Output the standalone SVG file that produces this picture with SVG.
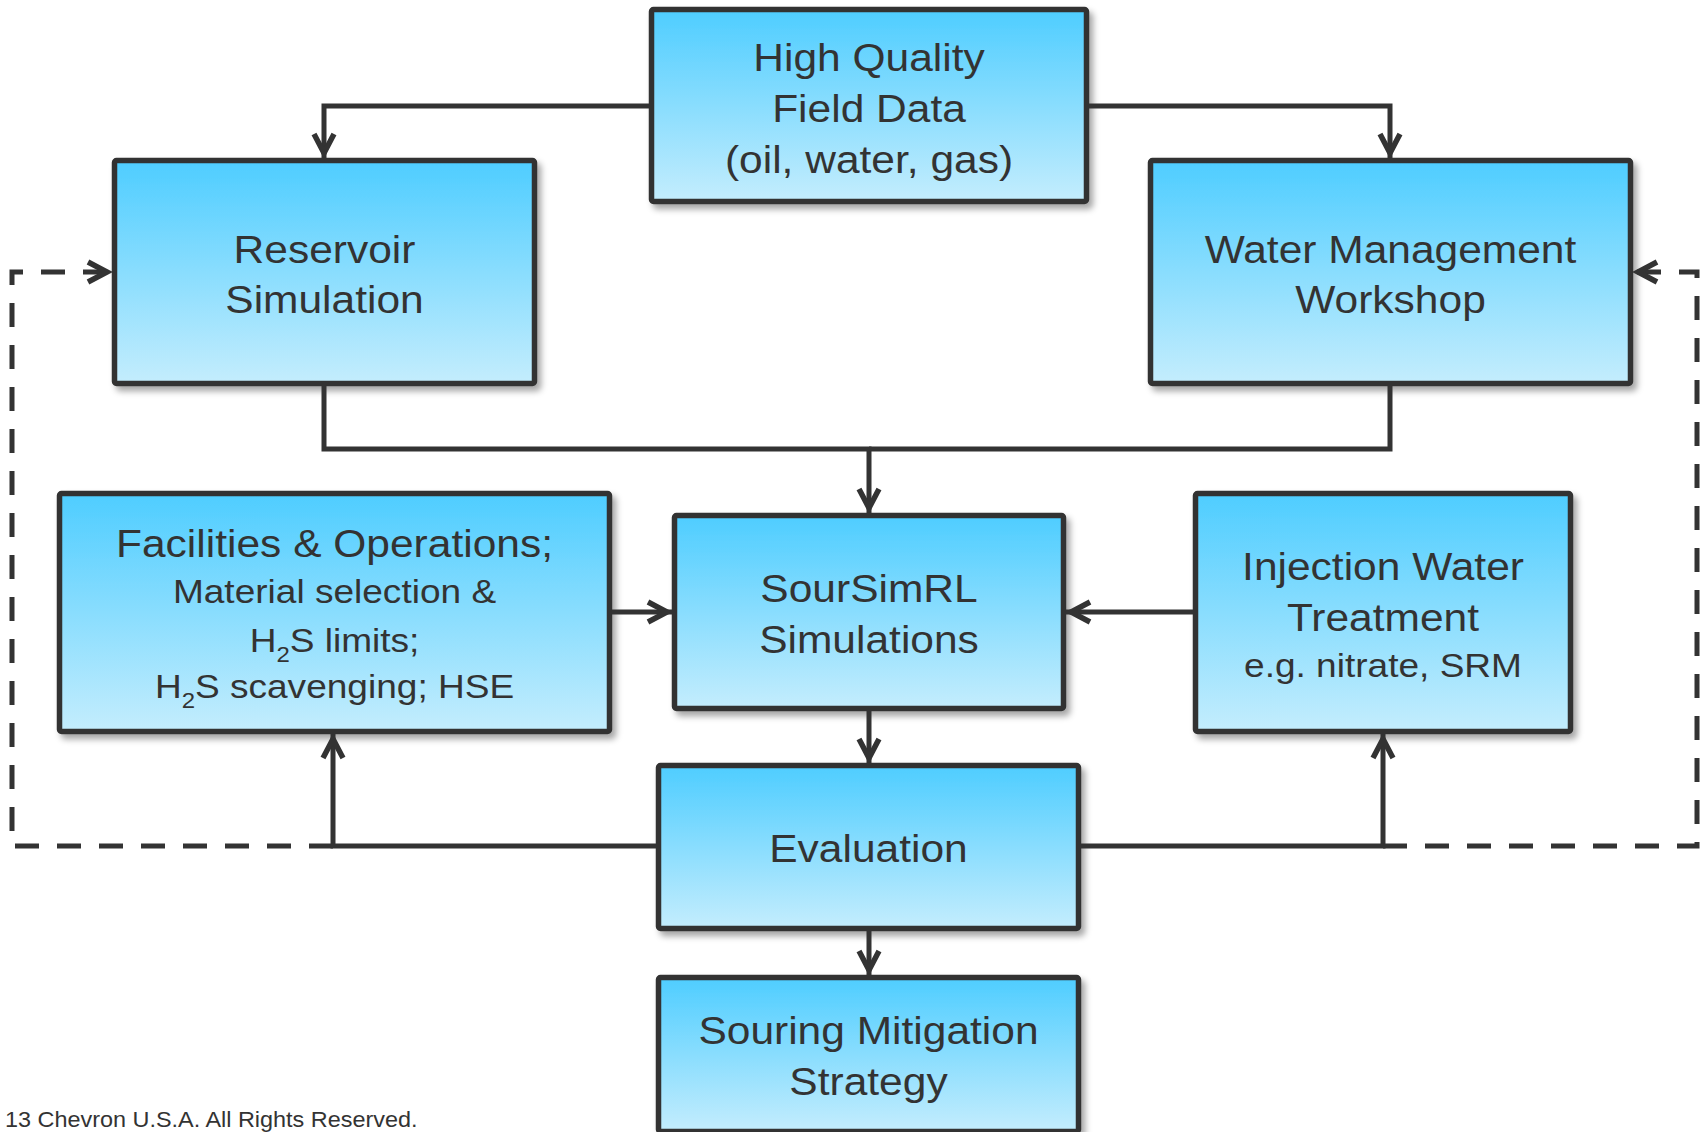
<svg xmlns="http://www.w3.org/2000/svg" width="1704" height="1132" viewBox="0 0 1704 1132">
<style>
.box{fill:url(#g);stroke:#333;stroke-width:5.5;stroke-linejoin:round;filter:url(#sh)}
.t{font-family:"Liberation Sans",Arial,sans-serif;fill:#333;text-anchor:middle}
.big{font-size:39px}
.sm{font-size:34px}
.sub{font-size:22px}
.c{fill:none;stroke:#333;stroke-width:5;stroke-linejoin:miter}
.d{stroke-dasharray:24 18}
.cp{font-family:"Liberation Sans",Arial,sans-serif;fill:#333;font-size:21.5px}
</style>
<defs>
<linearGradient id="g" x1="0" y1="0" x2="0" y2="1">
<stop offset="0" stop-color="#4ecdff"/>
<stop offset="1" stop-color="#c4edfd"/>
</linearGradient>
<filter id="sh" x="-10%" y="-10%" width="125%" height="130%">
<feDropShadow dx="4" dy="5" stdDeviation="3" flood-color="#000" flood-opacity="0.35"/>
</filter>
<marker id="a" markerUnits="userSpaceOnUse" viewBox="-30 -14 32 28" refX="0" refY="0" markerWidth="32" markerHeight="28" orient="auto" overflow="visible">
<path d="M-24,-10 L-5,0 L-24,10" fill="none" stroke="#333" stroke-width="5.5" stroke-linejoin="miter"/>
</marker>
</defs>
<rect width="1704" height="1132" fill="#fff"/>

<g id="hq">
<rect class="box" x="651.5" y="9.5" width="435" height="192" rx="2"/>
<g transform="translate(869 0) scale(1.09 1)">
<text class="t big" x="0" y="71">High Quality</text>
<text class="t big" x="0" y="122">Field Data</text>
<text class="t big" x="0" y="173">(oil, water, gas)</text>
</g>
</g>

<g id="reservoir">
<rect class="box" x="114.5" y="160.5" width="420" height="223" rx="2"/>
<g transform="translate(324.5 0) scale(1.09 1)">
<text class="t big" x="0" y="263">Reservoir</text>
<text class="t big" x="0" y="313">Simulation</text>
</g>
</g>

<g id="water">
<rect class="box" x="1150.5" y="160.5" width="480" height="223" rx="2"/>
<g transform="translate(1390.5 0) scale(1.09 1)">
<text class="t big" x="0" y="263">Water Management</text>
<text class="t big" x="0" y="313">Workshop</text>
</g>
</g>

<g id="facilities">
<rect class="box" x="59.5" y="493.5" width="550" height="238" rx="2"/>
<g transform="translate(334.5 0) scale(1.09 1)">
<text class="t big" x="0" y="557">Facilities &amp; Operations;</text>
<text class="t sm" x="0" y="603">Material selection &amp;</text>
<text class="t sm" x="0" y="652">H<tspan class="sub" dy="10">2</tspan><tspan dy="-10">S limits;</tspan></text>
<text class="t sm" x="0" y="698">H<tspan class="sub" dy="10">2</tspan><tspan dy="-10">S scavenging; HSE</tspan></text>
</g>
</g>

<g id="soursimrl">
<rect class="box" x="674.5" y="515.5" width="389" height="193" rx="2"/>
<g transform="translate(869 0) scale(1.09 1)">
<text class="t big" x="0" y="602">SourSimRL</text>
<text class="t big" x="0" y="653">Simulations</text>
</g>
</g>

<g id="injection">
<rect class="box" x="1195.5" y="493.5" width="375" height="238" rx="2"/>
<g transform="translate(1383 0) scale(1.09 1)">
<text class="t big" x="0" y="580">Injection Water</text>
<text class="t big" x="0" y="631">Treatment</text>
<text class="t sm" x="0" y="677">e.g. nitrate, SRM</text>
</g>
</g>

<g id="evaluation">
<rect class="box" x="658.5" y="765.5" width="420" height="163" rx="2"/>
<g transform="translate(868.5 0) scale(1.09 1)">
<text class="t big" x="0" y="862">Evaluation</text>
</g>
</g>

<g id="souring">
<rect class="box" x="658.5" y="977.5" width="420" height="154" rx="2"/>
<g transform="translate(868.5 0) scale(1.09 1)">
<text class="t big" x="0" y="1044">Souring Mitigation</text>
<text class="t big" x="0" y="1095">Strategy</text>
</g>
</g>

<g id="connectors">
<path class="c" d="M649 106 H324 V158" marker-end="url(#a)"/>
<path class="c" d="M1089 106 H1390 V158" marker-end="url(#a)"/>
<path class="c" d="M324 386 V449 H869 V513" marker-end="url(#a)"/>
<path class="c" d="M1390 386 V449 H869"/>
<path class="c" d="M612 612 H672" marker-end="url(#a)"/>
<path class="c" d="M1193 612 H1066" marker-end="url(#a)"/>
<path class="c" d="M869 711 V763" marker-end="url(#a)"/>
<path class="c" d="M869 931 V975" marker-end="url(#a)"/>
<path class="c" d="M656 846 H333 V734" marker-end="url(#a)"/>
<path class="c" d="M1081 846 H1383 V734" marker-end="url(#a)"/>
<path class="c d" d="M333 846 H12 V272 H112" marker-end="url(#a)"/>
<path class="c d" d="M1383 846 H1697 V272 H1633" marker-end="url(#a)"/>
</g>

<text class="cp" transform="translate(5 1127) scale(1.09 1)" x="0" y="0">13 Chevron U.S.A. All Rights Reserved.</text>
</svg>
